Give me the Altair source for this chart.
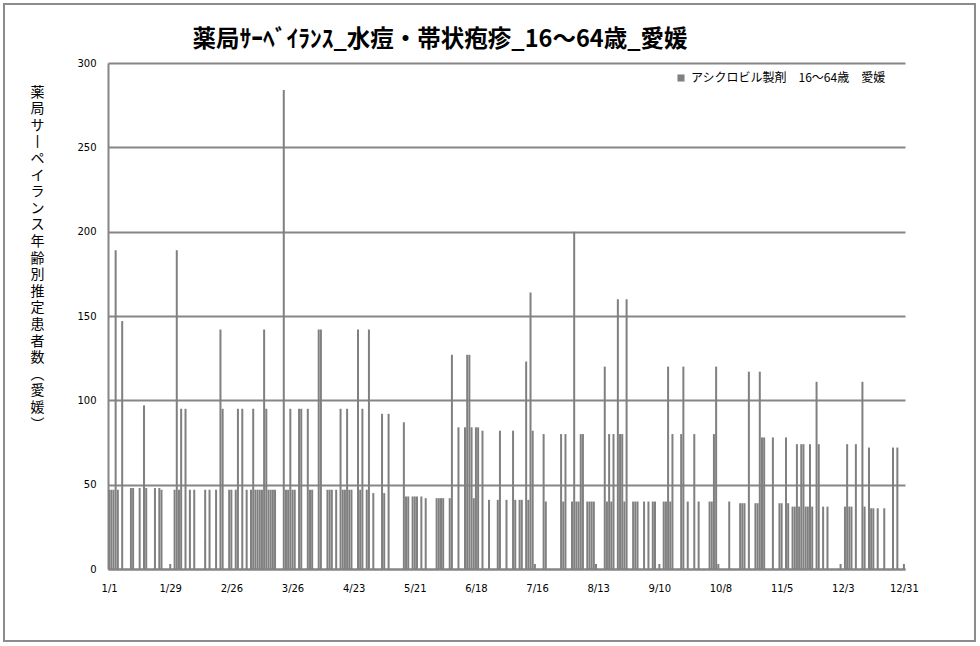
import altair as alt
import pandas as pd

title_text = "薬局ｻｰﾍﾞｲﾗﾝｽ_水痘・帯状疱疹_16～64歳_愛媛"
y_title = "薬局サ丨ペイランス年齢別推定患者数︵愛媛︶"
series_name = "アシクロビル製剤　16～64歳　愛媛"

tick_days = [0, 28, 56, 84, 112, 140, 168, 196, 224, 252, 280, 308, 336, 364]
tick_labels = ["1/1", "1/29", "2/26", "3/26", "4/23", "5/21", "6/18",
               "7/16", "8/13", "9/10", "10/8", "11/5", "12/3", "12/31"]
y_ticks = [0, 50, 100, 150, 200, 250, 300]

# day index (0 = 1/1) -> estimated patients
estimates = {
    0: 47, 1: 47, 2: 47, 3: 189, 4: 47, 6: 147, 10: 48, 11: 48, 14: 48, 16: 97,
    17: 48, 21: 48, 23: 48, 24: 47, 28: 3, 30: 47, 31: 189, 32: 47, 33: 95, 35: 95,
    37: 47, 39: 47, 44: 47, 46: 47, 49: 47, 51: 142, 52: 95, 55: 47, 56: 47, 58: 47,
    59: 95, 61: 95, 63: 47, 65: 47, 66: 95, 67: 47, 68: 47, 69: 47, 70: 47, 71: 142,
    72: 95, 73: 47, 74: 47, 75: 47, 76: 47, 80: 284, 81: 47, 82: 47, 83: 95, 84: 47,
    85: 47, 87: 95, 88: 95, 91: 95, 92: 47, 93: 47, 96: 142, 97: 142, 100: 47, 101: 47,
    102: 47, 104: 47, 106: 95, 107: 47, 108: 47, 109: 95, 110: 47, 111: 47, 114: 142,
    115: 47, 116: 95, 118: 47, 119: 142, 121: 45, 125: 92, 126: 45, 128: 92, 135: 87,
    136: 43, 137: 43, 139: 43, 140: 43, 141: 43, 143: 43, 145: 42, 150: 42, 151: 42,
    152: 42, 153: 42, 156: 42, 157: 127, 160: 84, 163: 84, 164: 127, 165: 127, 166: 84,
    167: 42, 168: 84, 169: 84, 171: 82, 174: 41, 178: 41, 179: 82, 182: 41, 185: 82,
    186: 41, 188: 41, 189: 41, 191: 123, 192: 41, 193: 164, 194: 82, 195: 3, 199: 80,
    200: 40, 207: 80, 208: 40, 209: 80, 212: 40, 213: 200, 214: 40, 215: 40, 216: 80,
    217: 80, 219: 40, 220: 40, 221: 40, 222: 40, 223: 3, 227: 120, 228: 40, 229: 80,
    230: 40, 231: 80, 233: 160, 234: 80, 235: 80, 236: 40, 237: 160, 240: 40, 241: 40,
    242: 40, 245: 40, 247: 40, 249: 40, 250: 40, 252: 3, 254: 40, 255: 40, 256: 120,
    257: 40, 258: 80, 262: 80, 263: 120, 265: 40, 268: 80, 270: 40, 275: 40, 276: 40,
    277: 80, 278: 120, 279: 3, 284: 40, 289: 39, 290: 39, 291: 39, 293: 117, 296: 39,
    297: 39, 298: 117, 299: 78, 300: 78, 304: 78, 307: 39, 308: 39, 310: 78, 311: 39,
    313: 37, 314: 37, 315: 74, 316: 37, 317: 74, 318: 74, 319: 37, 320: 37, 321: 74,
    322: 37, 324: 111, 325: 74, 327: 37, 329: 37, 335: 3, 337: 37, 338: 74, 339: 37,
    340: 37, 342: 74, 345: 111, 346: 37, 348: 72, 349: 36, 350: 36, 352: 36, 355: 36,
    359: 72, 361: 72, 364: 3,
}

df = pd.DataFrame({"day": list(estimates.keys()), "value": list(estimates.values())})
df["x0"] = df["day"] + 0.04
df["x1"] = df["day"] + 0.96
df["base"] = 0
df["series"] = series_name

label_expr = ("[" + ",".join(f"'{l}'" for l in tick_labels) + "][indexof(["
              + ",".join(str(d) for d in tick_days) + "], floor(datum.value))]")

GRID = "#868686"

bars = alt.Chart(df).mark_bar(color="#808080").encode(
    x=alt.X("x0:Q",
            scale=alt.Scale(domain=[0, 365], nice=False, zero=False),
            axis=alt.Axis(values=[d + 0.5 for d in tick_days], labelExpr=label_expr,
                          title=None, grid=False, ticks=False, domainColor=GRID,
                          domainWidth=2, labelFontSize=10, labelFont="DejaVu Sans",
                          labelPadding=14, labelColor="black", labelOverlap=False)),
    x2="x1:Q",
    y=alt.Y("value:Q",
            scale=alt.Scale(domain=[0, 300], nice=False),
            axis=alt.Axis(values=y_ticks, title=list(y_title), titleAngle=0,
                          titleX=-71, titleY=22, titleAlign="center",
                          titleBaseline="top", titleLineHeight=16.6, titleFontSize=14,
                          titleFont="Noto Sans CJK JP", titleFontWeight="normal",
                          titleColor="black",
                          grid=True, gridColor=GRID, gridWidth=2, ticks=False,
                          domainColor=GRID, domainWidth=2, labelFontSize=10,
                          labelFont="DejaVu Sans", labelPadding=12, labelColor="black")),
    y2="base:Q",
    color=alt.Color("series:N", scale=alt.Scale(range=["#808080"]),
                    legend=alt.Legend(orient="none", legendX=567, legendY=9, title=None,
                                      symbolType="square", symbolSize=50,
                                      labelFontSize=12, labelFont="Noto Sans CJK JP",
                                      labelLimit=400,
                                      labelColor="black", padding=0, symbolStrokeWidth=0)),
)

one = pd.DataFrame({"a": [0]})

frame = alt.Chart(one).mark_rect(
    fillOpacity=0, stroke="#8c8c8c", strokeWidth=2
).encode(
    x=alt.value(-104), x2=alt.value(867), y=alt.value(-59), y2=alt.value(578)
)

title = alt.Chart(one).mark_text(
    text=title_text, fontSize=23.5, font="Noto Sans CJK JP", fontWeight="bold",
    color="black", align="center", baseline="middle"
).encode(x=alt.value(332), y=alt.value(-23))

chart = alt.layer(frame, title, bars).properties(
    width=797, height=506,
    padding={"left": 108, "top": 63, "right": 75, "bottom": 77},
    autosize=alt.AutoSizeParams(type="none"),
    background="white",
).configure_view(stroke=None)

chart.save("out.html", embed_options={"renderer": "svg", "actions": False})
